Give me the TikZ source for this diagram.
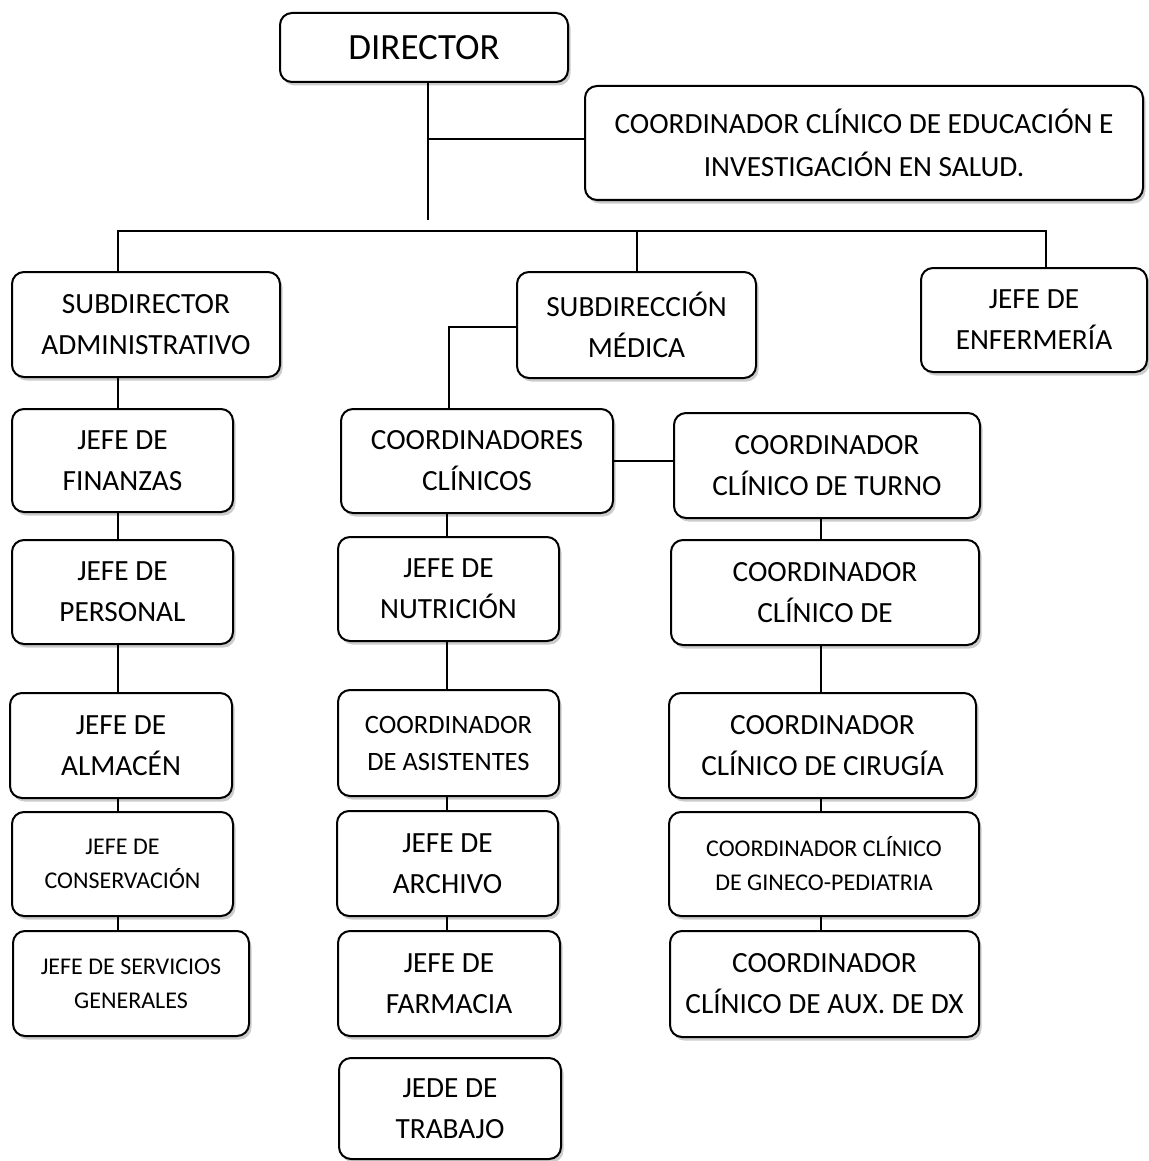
\documentclass[tikz,border=0pt]{standalone}
\usepackage{fontspec}
\setmainfont{Carlito}
\usetikzlibrary{shadows}
\begin{document}
\begin{tikzpicture}[x=1pt,y=-1pt,
  box/.style={draw=black, line width=2pt, rounded corners=12pt, fill=white, align=center, inner sep=0pt,
    drop shadow={shadow xshift=2.5pt, shadow yshift=-3.5pt, opacity=0.4},
    font=\fontsize{29.3}{41}\selectfont},
  small/.style={font=\fontsize{24}{34}\selectfont},
  ln/.style={line width=2pt}]
\useasboundingbox[fill=white] (0,0) rectangle (1148,1161);

% top
\node[box, minimum width=288, minimum height=69, font=\fontsize{37}{42}\selectfont] (dir) at (424,47.5) {DIRECTOR};
\node[box, minimum width=558, minimum height=114, font=\fontsize{29.3}{43}\selectfont] (edu) at (864,143) {COORDINADOR CLÍNICO DE EDUCACIÓN E\\INVESTIGACIÓN EN SALUD.};
\node[box, minimum width=268, minimum height=105] (sa) at (146,324.5) {SUBDIRECTOR\\ADMINISTRATIVO};
\node[box, minimum width=239, minimum height=106] (sm) at (636.5,325) {SUBDIRECCIÓN\\MÉDICA};
\node[box, minimum width=226, minimum height=104] (enf) at (1034,320) {JEFE DE\\ENFERMERÍA};

% left column
\node[box, minimum width=221, minimum height=103] (fin) at (122.5,460.5) {JEFE DE\\FINANZAS};
\node[box, minimum width=221, minimum height=104] (per) at (122.5,592) {JEFE DE\\PERSONAL};
\node[box, minimum width=222, minimum height=105] (alm) at (121,745.5) {JEFE DE\\ALMACÉN};
\node[box, small, minimum width=221, minimum height=104] (con) at (122.5,864) {JEFE DE\\CONSERVACIÓN};
\node[box, small, minimum width=236, minimum height=105] (ser) at (131,983.5) {JEFE DE SERVICIOS\\GENERALES};

% middle column
\node[box, minimum width=272, minimum height=104] (cc) at (477,461) {COORDINADORES\\CLÍNICOS};
\node[box, minimum width=221, minimum height=104] (nut) at (448.5,589) {JEFE DE\\NUTRICIÓN};
\node[box, minimum width=221, minimum height=106, font=\fontsize{26.5}{37}\selectfont] (asi) at (448.5,743) {COORDINADOR\\DE ASISTENTES};
\node[box, minimum width=221, minimum height=105] (arc) at (447.5,863.5) {JEFE DE\\ARCHIVO};
\node[box, minimum width=222, minimum height=105] (far) at (449,983.5) {JEFE DE\\FARMACIA};
\node[box, minimum width=222, minimum height=101] (tra) at (450,1108.5) {JEDE DE\\TRABAJO};

% right column
\node[box, minimum width=306, minimum height=105] (tur) at (827,465.5) {COORDINADOR\\CLÍNICO DE TURNO};
\node[box, minimum width=308, minimum height=105] (cde) at (825,592.5) {COORDINADOR\\CLÍNICO DE};
\node[box, minimum width=307, minimum height=105] (cir) at (822.5,745.5) {COORDINADOR\\CLÍNICO DE CIRUGÍA};
\node[box, small, minimum width=310, minimum height=104] (gin) at (824,864) {COORDINADOR CLÍNICO\\DE GINECO-PEDIATRIA};
\node[box, minimum width=309, minimum height=106] (aux) at (824.5,984) {COORDINADOR\\CLÍNICO DE AUX. DE DX};

% connector anchors
\coordinate (j1) at (428,139);
\coordinate (j0) at (428,220);
\coordinate (bl) at (118,231);
\coordinate (br) at (1046,231);
\coordinate (mx) at (449,327);
\coordinate (cx) at (447,0);
\coordinate (rx) at (821,0);

% connectors
\draw[ln] (dir.south -| j1) -- (j0);
\draw[ln] (j1) -- (j1 -| edu.west);
\draw[ln] (sa.north -| bl) -- (bl) -- (br) -- (enf.north -| br);
\draw[ln] (sm.north) -- (sm.north |- bl);

\draw[ln] (sa.south -| bl) -- (fin.north -| bl);
\draw[ln] (fin.south -| bl) -- (per.north -| bl);
\draw[ln] (per.south -| bl) -- (alm.north -| bl);
\draw[ln] (alm.south -| bl) -- (con.north -| bl);
\draw[ln] (con.south -| bl) -- (ser.north -| bl);

\draw[ln] (sm.west |- mx) -- (mx) -- (cc.north -| mx);
\draw[ln] (cc.south -| cx) -- (nut.north -| cx);
\draw[ln] (nut.south -| cx) -- (asi.north -| cx);
\draw[ln] (asi.south -| cx) -- (arc.north -| cx);
\draw[ln] (arc.south -| cx) -- (far.north -| cx);
\draw[ln] (cc.east) -- (cc.east -| tur.west);

\draw[ln] (tur.south -| rx) -- (cde.north -| rx);
\draw[ln] (cde.south -| rx) -- (cir.north -| rx);
\draw[ln] (cir.south -| rx) -- (gin.north -| rx);
\draw[ln] (gin.south -| rx) -- (aux.north -| rx);
\end{tikzpicture}
\end{document}
